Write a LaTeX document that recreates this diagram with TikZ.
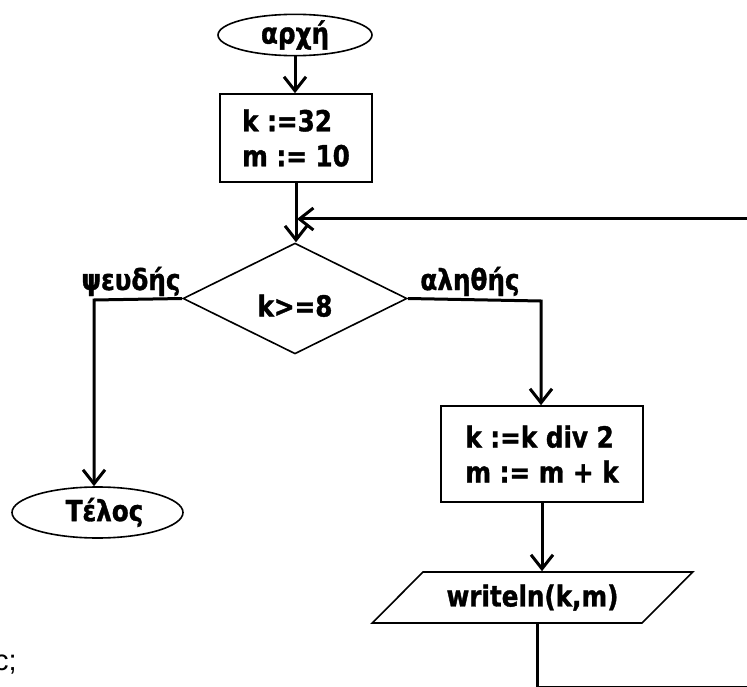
\documentclass[tikz,border=0pt]{standalone}
\usepackage{fontspec}
\setmainfont{DejaVu Sans}[FakeStretch=0.85, BoldFeatures={FakeBold=1.2}]
\newfontfamily\arialf{Liberation Sans}
\usetikzlibrary{shapes.geometric,arrows.meta}
\begin{document}
\begin{tikzpicture}[x=1pt,y=-1pt,
  every node/.style={font=\fontsize{29}{35}\selectfont\bfseries},
  term/.style={draw, ellipse, line width=1.6pt, inner sep=0pt},
  proc/.style={draw, rectangle, line width=1.6pt, align=left, inner sep=0pt},
  dec/.style={draw, diamond, line width=1.6pt, inner sep=0pt},
  io/.style={draw, trapezium, trapezium stretches=true, trapezium left angle=33.2, trapezium right angle=146.8, line width=1.6pt, inner sep=0pt},
  conn/.style={line width=3pt, -{Straight Barb[length=14pt,width=22pt]}},
  lbl/.style={inner sep=0pt, anchor=base}
]
\useasboundingbox (0,0) rectangle (747,687);
\clip (0,0) rectangle (747,687);
\node[term, minimum width=154pt, minimum height=40pt] (start) at (295,35) {αρχή};
\node[proc, minimum width=152pt, minimum height=88pt] (init) at (296,138) {k :=32\\m := 10};
\node[dec, minimum width=224pt, minimum height=89pt, text height=36pt, text depth=0pt] (test) at (295,298.5) {k>=8};
\node[term, minimum width=171pt, minimum height=51pt] (stop) at (97.5,512.5) {\hspace*{14pt}Τέλος};
\node[proc, minimum width=202pt, minimum height=96pt] (body) at (542,454) {k :=k div 2\\m := m + k};
\node[io, minimum width=321pt, minimum height=51pt] (out) at (532.5,597.5) {writeln(k,m)};
\node[lbl] (lf) at (131,290) {ψευδής};
\node[lbl] (lt) at (470,290) {αληθής};
\node[inner sep=0pt, anchor=base east, font=\arialf\fontsize{29}{35}\selectfont] (cut) at (17,670) {c;};
\coordinate (lb) at (94,300);
\coordinate (rb) at (541,301);
\coordinate (c1) at (537,687);
\coordinate (c2) at (760,687);
\coordinate (c3) at (760,219);
\coordinate (j) at (297,219);
\draw[conn] (start.south) -- (start.south |- init.north);
\draw[conn] (init.south) -- (init.south |- test.north);
\draw[conn] (test.west) -- (lb) -- (lb |- stop.north);
\draw[conn] (test.east) -- (rb) -- (rb |- body.north);
\draw[conn] (body.south) -- (body.south |- out.north);
\draw[conn] (c1 |- out.south) -- (c1) -- (c2) -- (c3) -- (j);
\end{tikzpicture}
\end{document}
